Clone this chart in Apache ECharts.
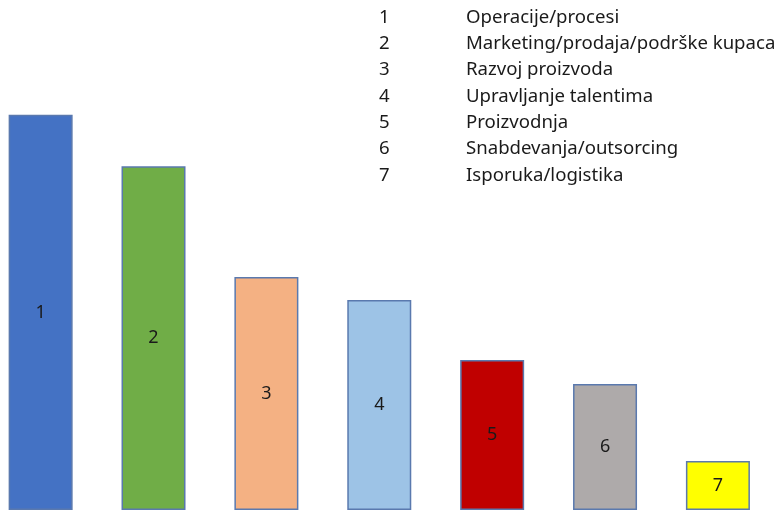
<!DOCTYPE html>
<html>
<head>
<meta charset="utf-8">
<script src="https://cdn.jsdelivr.net/npm/echarts@6/dist/echarts.min.js"></script>
<style>
  html, body { margin: 0; padding: 0; background: #fff; }
  #chart { width: 780px; height: 510px; }
</style>
</head>
<body>
<div id="chart"></div>
<script>
// bar numbers, their names and heights
const ids = ['1', '2', '3', '4', '5', '6', '7']
const names = [
  'Operacije/procesi',
  'Marketing/prodaja/podrške kupaca',
  'Razvoj proizvoda',
  'Upravljanje talentima',
  'Proizvodnja',
  'Snabdevanja/outsorcing',
  'Isporuka/logistika'
]
const values = [77.5, 67.4, 45.7, 41.2, 29.4, 24.7, 9.6]
const colors = ['#4472C4', '#70AD47', '#F4B183', '#9DC3E6', '#C00000', '#AEAAAA', '#FFFF00']

const chart = echarts.init(document.getElementById('chart'))
const font = '"Noto Sans", "Open Sans", sans-serif'

// legend list at top right
const legendItems = []
ids.forEach((id, i) => {
  legendItems.push({
    type: 'text', left: 379, top: 8 + i * 26.3,
    style: { text: id, font: '18.6px ' + font, fill: '#1a1a1a' }
  })
  legendItems.push({
    type: 'text', left: 466, top: 8 + i * 26.3,
    style: { text: names[i], font: '18.6px ' + font, fill: '#1a1a1a' }
  })
})

const option = {
  animation: false,
  grid: { left: 0, right: 0, top: 0, bottom: 0 },
  xAxis: {
    type: 'value', min: 0.64, max: 7.55,
    show: false
  },
  yAxis: { type: 'value', min: 0, max: 100, show: false },
  series: [{
    type: 'bar',
    barWidth: 64,
    data: values.map((v, i) => ({
      value: [i + 1, v],
      itemStyle: { color: colors[i] }
    })),
    itemStyle: { borderColor: '#5A79AE', borderWidth: 1.5 },
    label: {
      show: true, position: 'inside',
      formatter: p => ids[p.dataIndex],
      color: '#1a1a1a', fontSize: 18, fontFamily: font
    }
  }],
  graphic: legendItems
}
chart.setOption(option)
</script>
</body>
</html>
